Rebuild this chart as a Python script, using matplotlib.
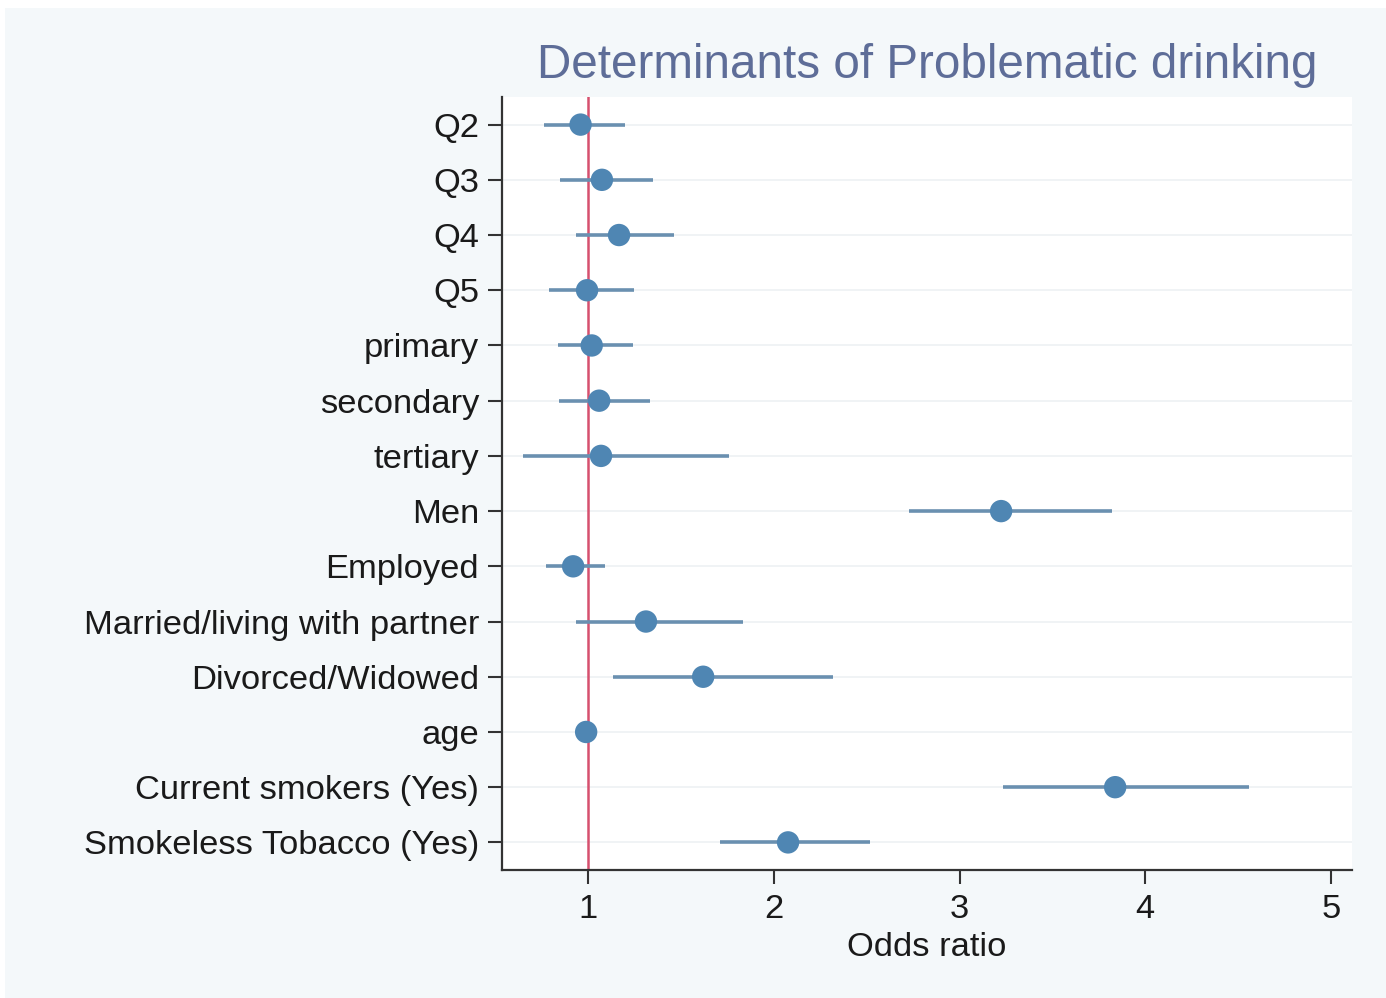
import matplotlib
matplotlib.use("Agg")
import matplotlib.pyplot as plt
from matplotlib.patches import Rectangle

# Odds ratios with 95% confidence intervals
labels = ["Q2", "Q3", "Q4", "Q5", "primary", "secondary", "tertiary", "Men",
          "Employed", "Married/living with partner", "Divorced/Widowed", "age",
          "Current smokers (Yes)", "Smokeless Tobacco (Yes)"]
odds = [0.96, 1.075, 1.167, 0.995, 1.02, 1.06, 1.07, 3.224,
        0.92, 1.312, 1.62, 0.99, 3.838, 2.077]
ci_low = [0.763, 0.849, 0.935, 0.79, 0.84, 0.844, 0.65, 2.729,
          0.774, 0.935, 1.135, 0.98, 3.235, 1.71]
ci_high = [1.199, 1.35, 1.463, 1.248, 1.24, 1.334, 1.76, 3.822,
           1.09, 1.835, 2.319, 1.0, 4.56, 2.52]
xticks = [1, 2, 3, 4, 5]

plt.rcParams["font.family"] = ["Liberation Sans", "DejaVu Sans"]

W, H = 1386, 998
fig = plt.figure(figsize=(W / 100, H / 100), dpi=100)
fig.patch.set_facecolor("#ffffff")
fig.patches.append(Rectangle((5 / W, 0), 1, 1 - 8 / H, transform=fig.transFigure,
                             facecolor="#f4f8fa", edgecolor="none", zorder=-10))

left, right, top, bottom = 502, 1352, 97, 870
ax = fig.add_axes([left / W, 1 - bottom / H, (right - left) / W, (bottom - top) / H])
ax.set_zorder(1)
ax.set_facecolor("#ffffff")

n = len(labels)
ypos = list(range(1, n + 1))

for y in ypos:
    ax.axhline(y, color="#edf1f4", lw=1.2, zorder=1)

ax.axvline(1, color="#d6506e", lw=1.8, zorder=2)

ax.hlines(ypos, ci_low, ci_high, color="#6a90b0", lw=2.6, zorder=3)
ax.scatter(odds, ypos, s=260, color="#4f86b3", edgecolors="none", zorder=4)

ax.set_ylim(n + 0.5, 0.5)
ax.set_xlim(0.537, 5.113)
ax.set_yticks(ypos)
ax.set_yticklabels(labels, fontsize=24.8, color="#1a1a1a")
ax.set_xticks(xticks)
ax.set_xticklabels([str(t) for t in xticks], fontsize=24.8, color="#1a1a1a")
ax.tick_params(axis="y", length=10, width=1.5, color="#333333", pad=6.5)
ax.tick_params(axis="x", length=10, width=1.5, color="#333333", pad=7.5)

for side in ["top", "right"]:
    ax.spines[side].set_visible(False)
for side in ["left", "bottom"]:
    ax.spines[side].set_linewidth(1.6)
    ax.spines[side].set_color("#333333")

ax.set_xlabel("Odds ratio", fontsize=24.8, color="#1a1a1a", labelpad=5)

fig.text(927 / W, 1 - 66 / H, "Determinants of Problematic drinking",
         fontsize=34.3, color="#5e6d98", ha="center", va="center")

fig.savefig("out.png", dpi=100, facecolor=fig.get_facecolor())
